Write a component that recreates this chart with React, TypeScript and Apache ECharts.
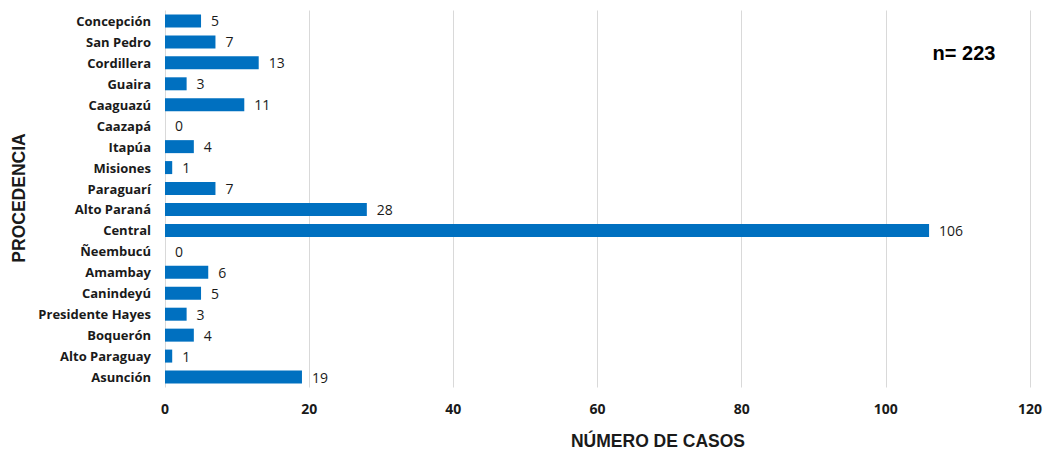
import React, { useEffect, useRef } from "react";
import * as echarts from "echarts";

const categories = [
  "Concepción", "San Pedro", "Cordillera", "Guaira", "Caaguazú", "Caazapá",
  "Itapúa", "Misiones", "Paraguarí", "Alto Paraná", "Central", "Ñeembucú",
  "Amambay", "Canindeyú", "Presidente Hayes", "Boquerón", "Alto Paraguay", "Asunción",
];
const values = [5, 7, 13, 3, 11, 0, 4, 1, 7, 28, 106, 0, 6, 5, 3, 4, 1, 19];
const xTicks = { min: 0, max: 120, interval: 20 };
const xTitle = "NÚMERO DE CASOS";
const yTitle = "PROCEDENCIA";
const note = "n= 223";

export default function App() {
  const ref = useRef<HTMLDivElement>(null);
  useEffect(() => {
    if (!ref.current) return;
    const chart = echarts.init(ref.current, null, { renderer: "svg" });
    chart.setOption({
      animation: false,
      backgroundColor: "#ffffff",
      grid: { left: 165, right: 14, top: 10.5, bottom: 63.5, containLabel: false },
      xAxis: {
        type: "value",
        min: xTicks.min,
        max: xTicks.max,
        interval: xTicks.interval,
        axisLine: { show: false },
        axisTick: { show: false },
        splitLine: { show: true, lineStyle: { color: "#d9d9d9", width: 1 } },
        axisLabel: {
          margin: 14,
          color: "#1a1a1a",
          fontWeight: "bold",
          fontSize: 14,
          fontFamily: "'Open Sans', sans-serif",
        },
      },
      yAxis: {
        type: "category",
        data: categories,
        inverse: true,
        axisLine: { show: false },
        axisTick: { show: false },
        splitLine: { show: false },
        axisLabel: {
          margin: 14,
          color: "#1a1a1a",
          fontWeight: "bold",
          fontSize: 13,
          fontFamily: "'Open Sans', sans-serif",
        },
      },
      series: [
        {
          type: "bar",
          data: values,
          barWidth: 13,
          itemStyle: { color: "#0070c0" },
          label: {
            show: true,
            position: "right",
            distance: 10,
            color: "#1a1a1a",
            fontSize: 14,
            fontFamily: "'Open Sans', sans-serif",
          },
        },
      ],
      graphic: [
        {
          type: "text",
          x: 964,
          y: 53,
          style: {
            text: note,
            fontSize: 20,
            fontWeight: "bold",
            fontFamily: "'Liberation Sans', Arial, sans-serif",
            fill: "#000",
            align: "center",
            verticalAlign: "middle",
          },
        },
        {
          type: "text",
          x: 658,
          y: 441,
          style: {
            text: xTitle,
            fontSize: 17.5,
            fontWeight: "bold",
            fontFamily: "'Liberation Sans', Arial, sans-serif",
            fill: "#1a1a1a",
            align: "center",
            verticalAlign: "middle",
          },
        },
        {
          type: "text",
          x: 19,
          y: 198,
          rotation: Math.PI / 2,
          style: {
            text: yTitle,
            fontSize: 17.5,
            fontWeight: "bold",
            fontFamily: "'Liberation Sans', Arial, sans-serif",
            fill: "#1a1a1a",
            align: "center",
            verticalAlign: "middle",
          },
        },
      ],
    });
    return () => chart.dispose();
  }, []);
  return (
    <div
      ref={ref}
      style={{ position: "fixed", left: 0, top: 0, width: 1045, height: 451 }}
    />
  );
}
